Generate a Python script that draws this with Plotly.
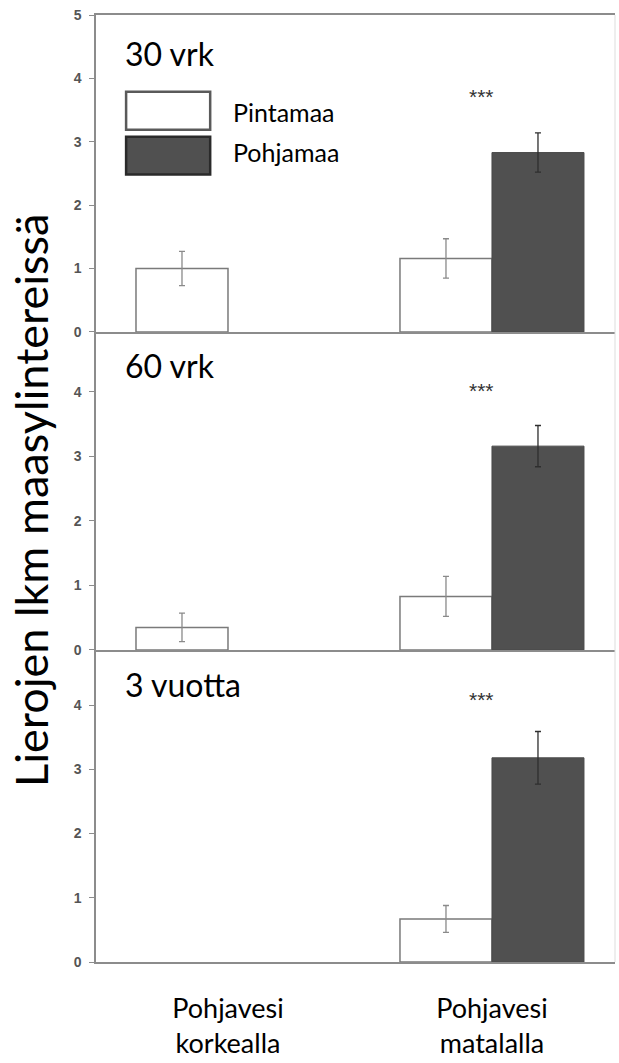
import plotly.graph_objects as go

categories = ["Pohjavesi<br>korkealla", "Pohjavesi<br>matalalla"]
panel_titles = ["30 vrk", "60 vrk", "3 vuotta"]
series_names = ["Pintamaa", "Pohjamaa"]

# values per panel: [korkealla, matalalla]
pinta_vals = [[1.00, 1.16], [0.35, 0.83], [None, 0.67]]
pinta_err = [[0.27, 0.31], [0.22, 0.31], [0, 0.21]]
pohja_vals = [[None, 2.83], [None, 3.16], [None, 3.18]]
pohja_err = [[0, 0.31], [0, 0.32], [0, 0.41]]
star_text = "***"
star_y = [3.72, 4.02, 4.09]
y_ranges = [[0, 5], [0, 4.93], [0, 4.86]]

W, H = 619, 1063
ml, mr, mt, mb = 96, 4, 15, 98
domains = [[0.6653, 1.0], [0.3295, 0.6653], [0.0, 0.3295]]

fig = go.Figure()
xpos = [0, 1]
for i in range(3):
    xa = "x" if i == 0 else f"x{i+1}"
    ya = "y" if i == 0 else f"y{i+1}"
    fig.add_trace(go.Bar(
        x=xpos, y=pinta_vals[i], xaxis=xa, yaxis=ya, name=series_names[0],
        marker=dict(color="white", line=dict(color="#7a7a7a", width=1.5)),
        error_y=dict(type="data", array=pinta_err[i], color="#8a8a8a", thickness=1.3, width=3),
        showlegend=False, offsetgroup="a"))
    fig.add_trace(go.Bar(
        x=xpos, y=pohja_vals[i], xaxis=xa, yaxis=ya, name=series_names[1],
        marker=dict(color="#505050", line=dict(color="#4a4a4a", width=1)),
        error_y=dict(type="data", array=pohja_err[i], color="#2e2e2e", thickness=1.3, width=3),
        showlegend=False, offsetgroup="b"))

axis_common = dict(showline=True, linecolor="#8c8c8c", linewidth=1.5, showgrid=False, zeroline=False)
layout = dict(width=W, height=H, margin=dict(l=ml, r=mr, t=mt, b=mb),
              plot_bgcolor="white", paper_bgcolor="white",
              barmode="group", bargap=0.303, bargroupgap=0, showlegend=False)
for i in range(3):
    xk = "xaxis" if i == 0 else f"xaxis{i+1}"
    yk = "yaxis" if i == 0 else f"yaxis{i+1}"
    xa_anchor = "y" if i == 0 else f"y{i+1}"
    ya_anchor = "x" if i == 0 else f"x{i+1}"
    xd = dict(axis_common, domain=[0, 1], anchor=xa_anchor, range=[-0.5, 1.466],
              tickvals=xpos, ticks="")
    if i == 2:
        xd.update(ticktext=categories, tickfont=dict(family="Lato", size=27, color="black"),
                  ticklabelstandoff=22)
    else:
        xd.update(showticklabels=False)
    if i == 0:
        xd.update(mirror=True)
    layout[xk] = xd
    yticks = [0, 1, 2, 3, 4, 5] if i == 0 else [0, 1, 2, 3, 4]
    layout[yk] = dict(axis_common, domain=domains[i], anchor=ya_anchor, range=y_ranges[i],
                      tickvals=yticks, ticks="outside", ticklen=5, tickcolor="#8c8c8c", tickwidth=1.3,
                      ticklabelstandoff=5,
                      tickfont=dict(family="Arial", size=14, color="#555555", weight="bold"))
fig.update_layout(**layout)

annotations = []
title_y = [0.88, 0.893, 0.888]
for i in range(3):
    xr = "x domain" if i == 0 else f"x{i+1} domain"
    yr = "y domain" if i == 0 else f"y{i+1} domain"
    annotations.append(dict(text=panel_titles[i], xref=xr, yref=yr, x=0.052, y=title_y[i],
                            xanchor="left", yanchor="middle", showarrow=False,
                            font=dict(family="Lato", size=32, color="black")))
    xdata = "x" if i == 0 else f"x{i+1}"
    ydata = "y" if i == 0 else f"y{i+1}"
    annotations.append(dict(text=star_text, xref=xdata, yref=ydata, x=0.96, y=star_y[i],
                            showarrow=False, font=dict(family="Arial", size=21, color="#333333")))
# legend
annotations.append(dict(text=series_names[0], xref="x domain", yref="y domain", x=0.26, y=0.695,
                        xanchor="left", yanchor="middle", showarrow=False,
                        font=dict(family="Lato", size=25, color="black")))
annotations.append(dict(text=series_names[1], xref="x domain", yref="y domain", x=0.26, y=0.569,
                        xanchor="left", yanchor="middle", showarrow=False,
                        font=dict(family="Lato", size=25, color="black")))
annotations.append(dict(text="Lierojen lkm maasylintereissä", xref="paper", yref="paper",
                        x=-0.125, y=0.487, textangle=-90, showarrow=False,
                        xanchor="center", yanchor="middle",
                        font=dict(family="Lato", size=45, color="black")))
fig.update_layout(annotations=annotations)

shapes = [
    dict(type="rect", xref="x domain", yref="y domain", x0=0.058, x1=0.22, y0=0.638, y1=0.758,
         fillcolor="white", line=dict(color="#5a5a5a", width=2.5)),
    dict(type="rect", xref="x domain", yref="y domain", x0=0.058, x1=0.22, y0=0.497, y1=0.616,
         fillcolor="#505050", line=dict(color="#2a2a2a", width=2.5)),
    dict(type="line", xref="paper", yref="paper", x0=1, x1=1, y0=0, y1=1,
         line=dict(color="#dddddd", width=1)),
]
fig.update_layout(shapes=shapes)

fig.write_html("out.html")
